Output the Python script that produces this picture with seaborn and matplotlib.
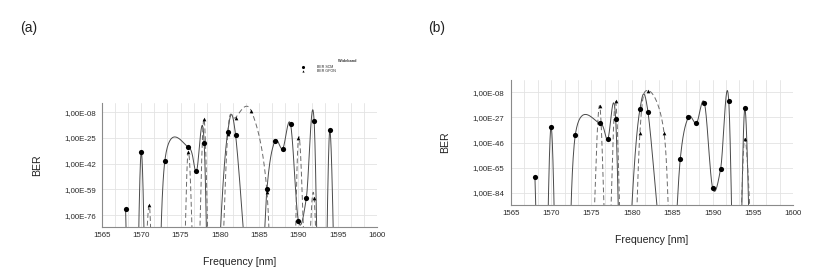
import numpy as np
import pandas as pd
import seaborn as sns
from matplotlib import pyplot as plt
from matplotlib.ticker import MultipleLocator, FixedLocator, FuncFormatter

# values are log10(BER); points below the axis are off-scale values that
# the smoothed line still passes through
freq_scm = [1568, 1569, 1570, 1571, 1572, 1573, 1576, 1577, 1578, 1579, 1580,
            1581, 1582, 1584, 1585, 1586, 1587, 1588, 1589, 1590, 1591, 1592,
            1593, 1594, 1595]
ber_scm_a = [-72, -250, -34, -250, -200, -40, -31, -47, -28, -250, -95,
             -21, -23, -150, -150, -58.5, -27, -32, -16, -80, -65, -14,
             -250, -20, -250]
ber_scm_b = [-72.4, -250, -34, -250, -200, -40.3, -31.2, -43.4, -28.2, -250, -95,
             -20.9, -22.9, -150, -150, -58.5, -26.9, -31.5, -16.3, -80.2, -65.8, -14.3,
             -250, -20.1, -250]

freq_gpon_a = [1570, 1571, 1572, 1575, 1576, 1577, 1578, 1579, 1580, 1581,
               1582, 1584, 1586, 1587, 1589, 1590, 1591, 1592, 1593]
ber_gpon_a = [-200, -69.6, -200, -150, -34, -150, -12.6, -200, -150, -22.3,
              -11.5, -7.1, -61, -200, -200, -25.2, -120, -64.5, -250]

freq_gpon_b = [1574, 1575, 1576, 1577, 1578, 1579, 1580, 1581, 1582, 1584,
               1585, 1587, 1590, 1593, 1594, 1595]
ber_gpon_b = [-200, -150, -18.1, -150, -14.8, -200, -200, -38.6, -6.7, -39,
              -150, -200, -200, -150, -43.1, -150]

yticks_a = [-8, -25, -42, -59, -76]
yticks_b = [-8, -27, -46, -65, -84]
ylim_a = (-83.9, -1.8)
ylim_b = (-93.3, 1.3)


def smooth(xs, ys, n=40):
    # excel-like smoothed line (catmull-rom as bezier segments)
    p = np.column_stack([xs, ys]).astype(float)
    p = np.vstack([p[:1], p, p[-1:]])
    out = []
    for i in range(1, len(p) - 2):
        p0, p3 = p[i], p[i + 1]
        c1 = p0 + (p[i + 1] - p[i - 1]) / 6
        c2 = p3 - (p[i + 2] - p[i]) / 6
        t = np.linspace(0, 1, n)[:, None]
        seg = (1 - t) ** 3 * p0 + 3 * (1 - t) ** 2 * t * c1 + 3 * (1 - t) * t ** 2 * c2 + t ** 3 * p3
        out.append(seg if i == 1 else seg[1:])
    return np.vstack(out)


def draw_panel(ax, scm, gpon_f, gpon, ylim, yticks):
    s = smooth(freq_scm, scm)
    g = smooth(gpon_f, gpon)
    sns.lineplot(x=s[:, 0], y=s[:, 1], sort=False, estimator=None, ax=ax,
                 color='#4a4a4a', linewidth=0.7)
    sns.lineplot(x=g[:, 0], y=g[:, 1], sort=False, estimator=None, ax=ax,
                 color='#6a6a6a', linewidth=0.7, linestyle=(0, (5, 3)))
    ds = pd.DataFrame({'f': freq_scm, 'b': scm})
    dg = pd.DataFrame({'f': gpon_f, 'b': gpon})
    ds = ds[ds.b > ylim[0]]
    dg = dg[dg.b > ylim[0]]
    sns.scatterplot(data=ds, x='f', y='b', ax=ax, marker='o', s=14, color='black',
                    edgecolor='black', linewidth=0, label='BER SCM', zorder=5)
    sns.scatterplot(data=dg, x='f', y='b', ax=ax, marker='^', s=7, color='black',
                    edgecolor='black', linewidth=0, label='BER GPON', zorder=5)
    ax.set_xlim(1565, 1600)
    ax.set_ylim(*ylim)
    ax.xaxis.set_major_locator(MultipleLocator(5))
    ax.xaxis.set_minor_locator(MultipleLocator(5 / 3))
    ax.yaxis.set_major_locator(FixedLocator(yticks))
    ax.yaxis.set_major_formatter(FuncFormatter(lambda v, p: '1,00E-%02d' % round(-v)))
    ax.grid(True, which='both', axis='x', color='#e3e3e3', linewidth=0.6)
    ax.grid(True, which='major', axis='y', color='#e3e3e3', linewidth=0.6)
    ax.set_axisbelow(True)
    for side in ['top', 'right']:
        ax.spines[side].set_visible(False)
    for side in ['left', 'bottom']:
        ax.spines[side].set_color('#8a8a8a')
        ax.spines[side].set_linewidth(0.8)
    ax.tick_params(axis='both', which='both', labelsize=5.7, colors='#8a8a8a',
                   labelcolor='#2a2a2a', length=2.5, width=0.6, pad=2)
    ax.tick_params(axis='x', which='both', direction='inout', length=3)
    ax.set_xlabel('Frequency [nm]', fontsize=7.6, color='#222222', labelpad=13)
    ax.set_ylabel('BER', fontsize=7.6, color='#222222', labelpad=16)


sns.set_theme(style='white')
plt.rcParams['font.family'] = ['Liberation Sans', 'DejaVu Sans']

fig = plt.figure(figsize=(8.28, 2.79), dpi=100)
ax1 = fig.add_axes([0.1232, 0.1864, 0.3321, 0.4444])
ax2 = fig.add_axes([0.6168, 0.2652, 0.3413, 0.4480])

draw_panel(ax1, ber_scm_a, freq_gpon_a, ber_gpon_a, ylim_a, yticks_a)
draw_panel(ax2, ber_scm_b, freq_gpon_b, ber_gpon_b, ylim_b, yticks_b)

# tiny legend of panel (a)
h, l = ax1.get_legend_handles_labels()
ax1.legend(h, l, loc='upper left', bbox_to_anchor=(0.36, 0.775),
           bbox_transform=fig.transFigure, frameon=False, fontsize=2.6,
           handletextpad=2.8, labelspacing=0.05, borderpad=0, markerscale=0.6)
ax2.get_legend().remove()
fig.text(0.408, 0.782, 'Wideband', fontsize=2.8, fontweight='bold', color='#333333',
         ha='left', va='center')

fig.text(0.035, 0.9, '(a)', fontsize=10, color='#222222', ha='center', va='center')
fig.text(0.527, 0.9, '(b)', fontsize=10, color='#222222', ha='center', va='center')

fig.savefig('out.png', dpi=100)
